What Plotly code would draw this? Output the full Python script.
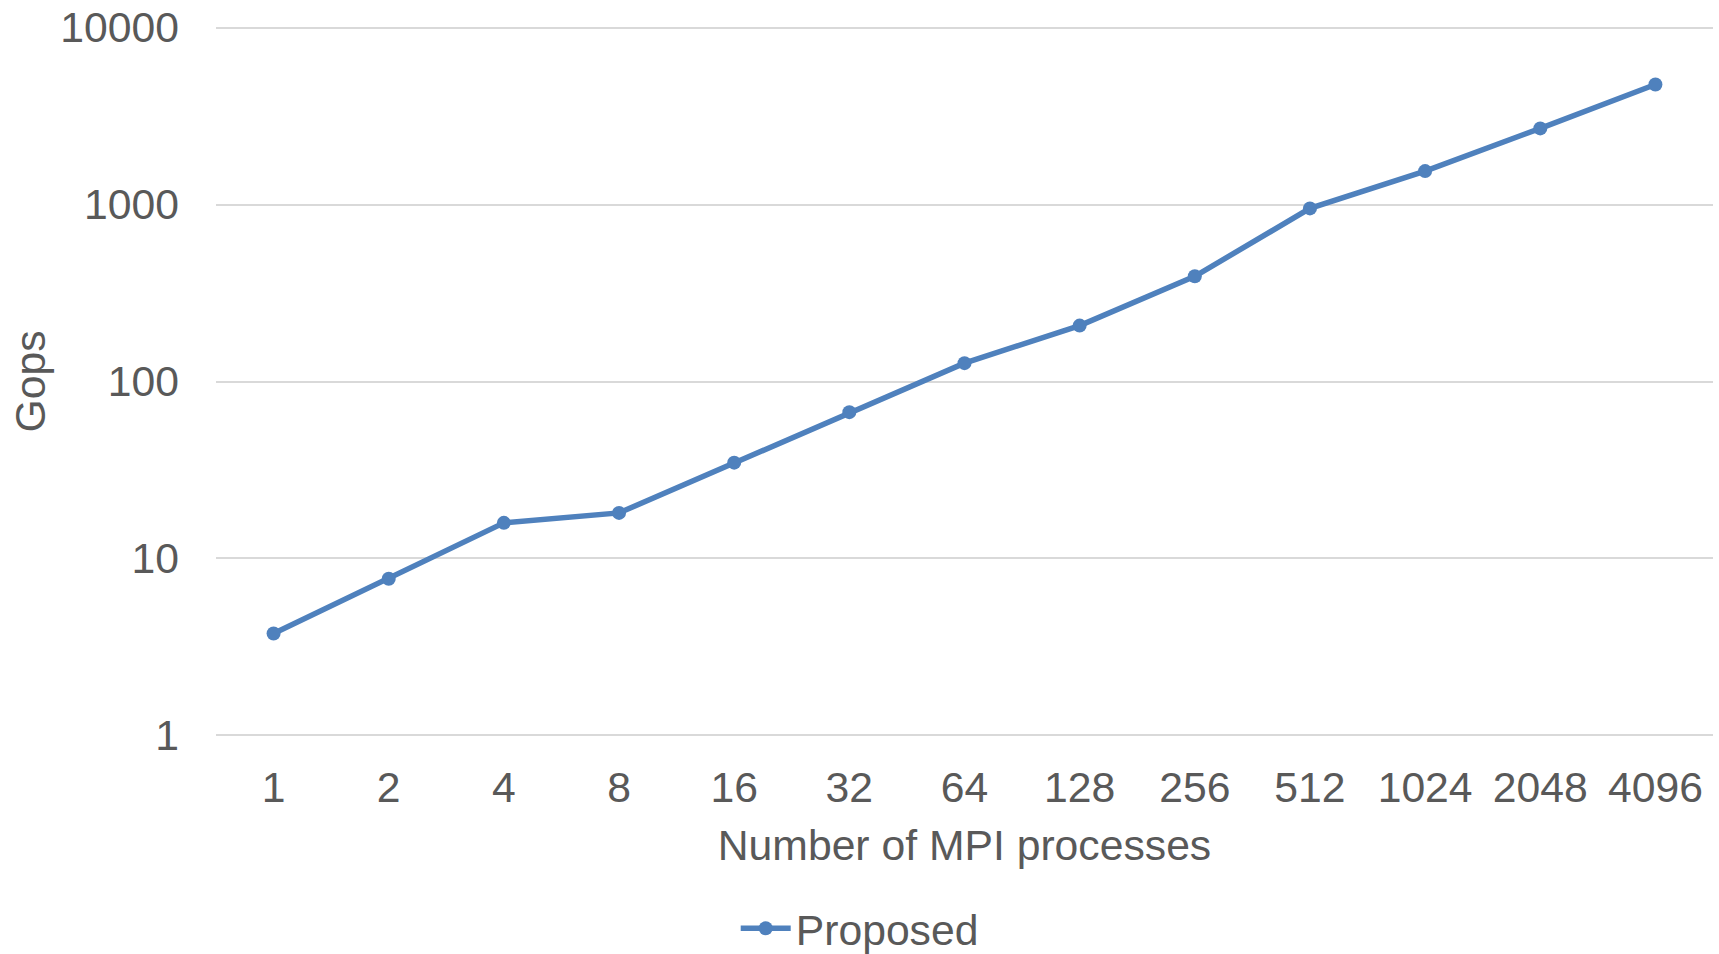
import plotly.graph_objects as go

categories = ["1", "2", "4", "8", "16", "32", "64", "128", "256", "512", "1024", "2048", "4096"]
proposed = [3.77, 7.68, 15.9, 18.1, 34.8, 67.1, 127, 207, 393, 951, 1545, 2693, 4764]
y_ticks = [1, 10, 100, 1000, 10000]
y_tick_labels = ["1", "10", "100", "1000", "10000"]

blue = "#4F81BD"
txt = "#595959"
font_family = "Liberation Sans, Arial, sans-serif"
fs = 42.7

fig = go.Figure()
fig.add_trace(go.Scatter(
    x=categories, y=proposed, mode="lines+markers", name="Proposed",
    line=dict(color=blue, width=5.5),
    marker=dict(color=blue, size=14, symbol="circle"),
))

fig.update_layout(
    width=1719, height=954,
    paper_bgcolor="white", plot_bgcolor="white",
    margin=dict(l=216, r=6, t=24, b=215, autoexpand=False),
    font=dict(family=font_family, color=txt, size=fs),
    showlegend=True,
    legend=dict(orientation="h", x=0.43, xanchor="center", y=-0.265, yanchor="middle",
                font=dict(size=fs, color=txt), itemwidth=50, bgcolor="rgba(0,0,0,0)"),
    xaxis=dict(
        type="category", range=[-0.5, 12.5], showgrid=False, zeroline=False, showline=False,
        automargin=False, ticklabeloverflow="allow",
        tickfont=dict(size=fs, color=txt), ticks="", ticklabelstandoff=19,
        title=dict(text="Number of MPI processes", font=dict(size=fs, color=txt), standoff=20),
    ),
    yaxis=dict(
        type="log", range=[-0.02, 4.02], tickvals=y_ticks, ticktext=y_tick_labels,
        showgrid=True, gridcolor="#D9D9D9", gridwidth=2, zeroline=False, showline=False,
        automargin=False, ticklabeloverflow="allow",
        tickfont=dict(size=fs, color=txt), ticks="", ticklabelstandoff=36,
        title=dict(text="Gops", font=dict(size=fs, color=txt), standoff=1),
    ),
)

fig.write_html("out.html", config={"displayModeBar": False},
               post_script="document.body.style.margin='0';document.body.style.overflow='hidden';")
